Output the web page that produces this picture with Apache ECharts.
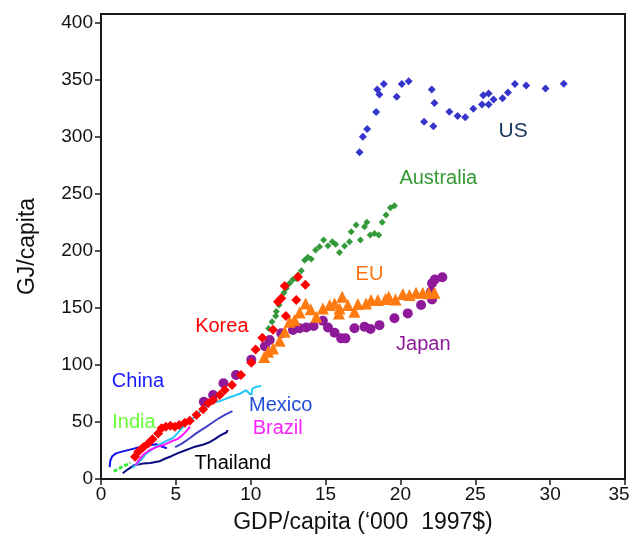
<!DOCTYPE html>
<html>
<head>
<meta charset="utf-8">
<script src="https://cdn.jsdelivr.net/npm/echarts@6/dist/echarts.min.js"></script>
<style>
  html, body { margin: 0; padding: 0; background: #fff; }
  #chart { width: 632px; height: 545px; }
</style>
</head>
<body>
<div id="chart"></div>
<script>
// Energy use per capita (GJ) against GDP per capita ('000 1997$), by country.
// Each point is [GDP/capita, GJ/capita].
const us = [[17.27,286.6],[17.49,300.3],[17.78,307],[18.38,322],[18.45,341.8],[18.6,337.4],[18.89,346.5],
  [19.75,335.4],[20.09,346.5],[20.55,349],[21.58,313.4],[22.09,341.8],[22.27,330],[22.2,309.6],
  [23.27,322.2],[23.82,318.4],[24.33,317.3],[24.87,324.8],[25.45,328.7],[25.53,336.8],[25.89,338.3],
  [25.89,328.7],[26.22,333],[26.82,334],[27.18,339.2],[27.65,346.5],[28.4,345.3],[29.69,342.7],[30.91,346.8]];

const australia = [[11.2,132],[11.42,138],[11.67,143],[11.71,147],[11.89,152.6],[12.04,158.5],[12.22,163.4],
  [12.38,167.3],[12.6,171.7],[12.82,175],[13.04,176],[13.16,179],[13.38,182.7],[13.6,192],[13.82,194.5],
  [14.04,193],[14.33,200.9],[14.6,203.8],[14.87,209.6],[15.16,204.7],[15.45,208.2],[15.67,206],[15.93,198.8],
  [16.27,204.4],[16.6,208.2],[16.71,216.9],[17.04,222.8],[17.33,209.6],[17.6,221.3],[17.76,225.2],[17.98,214],
  [18.27,215.5],[18.55,214],[18.78,225.2],[19.04,231.6],[19.33,238],[19.6,239.7]];

const korea = [[2.27,19.6],[2.49,24],[2.82,27.8],[3.16,31.3],[3.44,34.8],[3.82,40],[4.04,44.5],[4.33,45.9],
  [4.64,46.8],[4.93,45.9],[5.22,47.4],[5.6,49.4],[5.93,51.1],[6.38,56.1],[6.82,61.1],[7.16,66.4],[7.49,69.3],
  [7.93,73.7],[8.27,78],[8.75,82.5],[9.35,91.2],[10.04,102],[10.33,113.7],[10.78,124],[11.49,131],
  [12.35,143],[11.82,155.5],[12.04,158.5],[13.04,157],[12.27,169.3],[13.16,177.3],[13.65,170.5]];

const japan = [[6.87,67.8],[7.49,73.7],[8.18,84],[9.02,91.2],[10.04,104.7],[10.95,116.4],[11.27,122],
  [12.04,127.8],[12.82,130.7],[13.27,132.2],[13.71,133],[14.2,134.2],[14.82,138.9],[15.16,133],[15.6,128.3],
  [16.04,123.4],[16.33,123.4],[16.93,132.2],[17.6,133.6],[18,131.6],[18.6,135],[19.6,141],[20.49,145.3],
  [21.38,152.6],[22.11,157.6],[22.04,164.3],[22.11,171.7],[22.3,175],[22.8,177]];

const eu = [[10.9,107],[11.16,111.7],[11.49,114.6],[11.93,121.3],[12.27,129.2],[12.6,138],[12.93,139.5],
  [13.27,146],[13.67,154],[14.0,149],[14.38,142.4],[14.82,149.7],[15.27,152.6],[15.6,154],[15.89,145.3],
  [15.93,149.7],[16.11,160],[16.49,152.6],[16.93,146.8],[17.16,153.5],[17.71,154],[18.04,157],[18.49,157],
  [19.0,158],[19.22,160],[19.67,157.6],[20.16,162.3],[20.6,161.4],[21.04,163.4],[21.49,163.4],[21.9,163],
  [22.27,163.4]];

const china = [[0.58,10.5],[0.62,16],[0.75,20],[1.0,22.5],[1.4,24],[2.0,26],[2.6,28],[3.2,29.5],[3.7,30.5],
  [3.95,29],[4.0,27.5],[4.4,27]];

const india = [[0.85,6.5],[1.1,8.5],[1.4,10.5],[1.7,12.5],[1.95,14.5]];

const thailand = [[1.45,5],[1.8,8.5],[2.2,12],[2.8,13.5],[3.3,14],[3.9,15.5],[4.3,18],[4.7,20],[5.1,22.5],
  [5.6,25],[6.2,28],[6.8,30],[7.2,32],[7.6,35],[8.0,38.5],[8.4,41],[8.45,43]];

const brazil = [[2.3,12],[2.5,16],[2.8,21],[3.2,25],[3.7,28],[4.2,30],[4.7,33],[5.1,35],[5.4,38],[5.7,42],[5.95,46]];

const mexico = [[2.1,10],[2.4,13],[2.7,17],[3.0,22],[3.4,26],[3.8,29.5],[4.3,33],[4.8,36],[5.1,40],[5.5,46],
  [5.8,50],[6.2,54],[6.6,59],[7.0,63],[7.5,67],[8.0,68.5],[8.4,70.8],[8.9,73],[9.3,75],[9.7,78],[9.9,75],
  [10.05,74],[10.1,79],[10.4,81],[10.7,81.6]];

const slateLine = [[4.95,28],[5.4,31],[5.9,35.5],[6.4,40.5],[7.0,45.5],[7.5,50],[7.9,53.5],[8.3,56.5],[8.78,59.5]];

// Country name labels, placed in data coordinates.
const labelNames  = ['US', 'Australia', 'EU', 'Japan', 'Korea', 'China', 'India', 'Mexico', 'Brazil', 'Thailand'];
const labelPoints = [[27.53,305.3],[22.53,264],[17.93,179.8],[21.53,118.4],[8.07,134.2],[2.47,86],[2.2,50],[12,64.9],[11.8,43.9],[8.8,14]];
const labelColors = ['#17375e','#339933','#ff7316','#8e1a9a','#ff0000','#1a1aff','#66ff33','#1f4fd8','#ff22ff','#000000'];

const xTicks = [0,5,10,15,20,25,30,35];
const yTicks = [0,50,100,150,200,250,300,350,400];

const FONT = '"Liberation Sans", Arial, sans-serif';

const chart = echarts.init(document.getElementById('chart'), null, { renderer: 'canvas' });

function lineSeries(name, data, color, extra) {
  return Object.assign({
    name, type: 'line', data, symbol: 'none', smooth: false, z: 2,
    lineStyle: { color, width: 2 }, animation: false
  }, extra || {});
}
function pointSeries(name, data, symbol, size, color, z) {
  return { name, type: 'scatter', data, symbol, symbolSize: size, z: z,
    itemStyle: { color, opacity: 1 }, animation: false };
}

chart.setOption({
  backgroundColor: '#ffffff',
  animation: false,
  grid: { left: 101, right: 7, top: 14, bottom: 66, outerBoundsMode: 'none', containLabel: false,
    show: true, borderColor: '#1a1a1a', borderWidth: 2, backgroundColor: 'transparent' },
  xAxis: {
    type: 'value', min: 0, max: 35, interval: 5,
    name: 'GDP/capita (\u2018000  1997$)', nameLocation: 'middle', nameGap: 32,
    nameTextStyle: { fontFamily: FONT, fontSize: 23, color: '#111' },
    axisLine: { show: true, onZero: false, lineStyle: { color: '#1a1a1a', width: 2 } },
    axisTick: { show: true, length: 6, lineStyle: { color: '#1a1a1a', width: 1.5 }, customValues: xTicks },
    axisLabel: {
      fontFamily: FONT, fontSize: 19, color: '#111', margin: 6, customValues: xTicks,
      // keep the last label inside the page edge
      formatter: v => (v === 35 ? '{edge|35}' : String(v)),
      rich: { edge: { fontFamily: FONT, fontSize: 19, color: '#111', padding: [0, 12, 0, 0] } }
    },
    splitLine: { show: false }
  },
  yAxis: {
    type: 'value', min: 0, max: 408,
    name: 'GJ/capita', nameLocation: 'middle', nameGap: 62, nameRotate: 90,
    nameTextStyle: { fontFamily: FONT, fontSize: 23, color: '#111' },
    axisLine: { show: true, onZero: false, lineStyle: { color: '#1a1a1a', width: 2 } },
    axisTick: { show: true, length: 6, lineStyle: { color: '#1a1a1a', width: 1.5 }, customValues: yTicks },
    axisLabel: { fontFamily: FONT, fontSize: 19, color: '#111', margin: 8, customValues: yTicks },
    splitLine: { show: false }
  },
  series: [
    lineSeries('China', china, '#1010ee'),
    lineSeries('India', india, '#33ee33', { lineStyle: { color: '#33ee33', width: 3, type: [4, 2] } }),
    lineSeries('Thailand', thailand, '#0a0a80'),
    lineSeries('Slate', slateLine, '#4040c8'),
    lineSeries('Mexico', mexico, '#22c8f8'),
    lineSeries('Brazil', brazil, '#ff10ff'),
    pointSeries('Japan', japan, 'circle', 10, '#8e1a9a', 3),
    pointSeries('EU', eu, 'triangle', 12, '#ff7a10', 4),
    pointSeries('Australia', australia, 'diamond', 7, '#33993a', 5),
    pointSeries('Korea', korea, 'diamond', 10, '#ff0000', 6),
    pointSeries('US', us, 'diamond', 8, '#3535cc', 6),
    {
      name: 'labels', type: 'scatter', symbol: 'circle', symbolSize: 1, z: 10, animation: false,
      itemStyle: { color: 'rgba(0,0,0,0)', opacity: 1 }, silent: true,
      data: labelNames.map((n, i) => ({
        name: n, value: labelPoints[i],
        label: {
          show: true, position: 'inside', formatter: '{b}', opacity: 1,
          fontFamily: FONT, fontSize: n === 'US' ? 21 : 20, color: labelColors[i]
        }
      }))
    }
  ]
});
</script>
</body>
</html>
